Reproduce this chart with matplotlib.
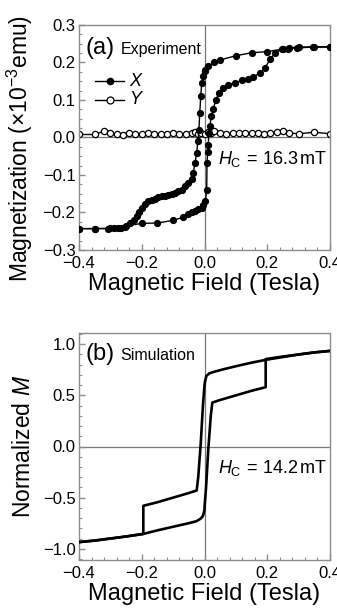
import matplotlib
matplotlib.use('Agg')
import matplotlib.pyplot as plt
from matplotlib.ticker import MultipleLocator

plt.rcParams['font.family'] = ['Liberation Sans', 'DejaVu Sans']
plt.rcParams['mathtext.fontset'] = 'custom'
plt.rcParams['mathtext.rm'] = 'Liberation Sans'
plt.rcParams['mathtext.it'] = 'Liberation Sans:italic'

# (a) experiment, X component: descending branch then ascending branch
x_down = [0.4, 0.35, 0.3, 0.27, 0.25, 0.2, 0.15, 0.1, 0.05, 0.03, 0.012, 0.003, 0.0,
          -0.005, -0.009, -0.012, -0.015, -0.018, -0.021, -0.025, -0.03, -0.036, -0.041,
          -0.052, -0.062, -0.073, -0.084, -0.094, -0.105, -0.115, -0.126, -0.136, -0.147,
          -0.158, -0.168, -0.179, -0.19, -0.2, -0.21, -0.216, -0.226, -0.237, -0.253,
          -0.265, -0.275, -0.29, -0.307, -0.35, -0.4]
mx_down = [0.242, 0.242, 0.241, 0.239, 0.236, 0.229, 0.226, 0.218, 0.207, 0.2, 0.19, 0.18, 0.176,
           0.165, 0.145, 0.11, 0.066, 0.02, -0.01, -0.041, -0.068, -0.094, -0.112,
           -0.121, -0.13, -0.139, -0.144, -0.148, -0.151, -0.153, -0.155, -0.157, -0.16,
           -0.165, -0.167, -0.17, -0.178, -0.188, -0.2, -0.21, -0.22, -0.229, -0.238,
           -0.241, -0.241, -0.242, -0.243, -0.243, -0.243]
x_up = [-0.4, -0.35, -0.3, -0.25, -0.2, -0.15, -0.1, -0.07, -0.052, -0.04, -0.03, -0.02,
        -0.009, -0.004, 0.003, 0.007, 0.008, 0.01, 0.012, 0.014, 0.017, 0.022, 0.028, 0.036,
        0.047, 0.06, 0.076, 0.097, 0.119, 0.14, 0.156, 0.177, 0.193, 0.209, 0.225, 0.246,
        0.267, 0.294, 0.346, 0.4]
mx_up = [-0.243, -0.243, -0.242, -0.236, -0.229, -0.228, -0.221, -0.213, -0.205, -0.2, -0.196,
         -0.192, -0.188, -0.179, -0.17, -0.139, -0.068, -0.04, -0.019, 0.012, 0.03, 0.057,
         0.075, 0.101, 0.119, 0.132, 0.141, 0.146, 0.152, 0.156, 0.162, 0.172, 0.186, 0.208,
         0.226, 0.235, 0.237, 0.239, 0.241, 0.241]

# (a) experiment, Y component
x_y = [-0.4, -0.35, -0.32, -0.3, -0.28, -0.26, -0.24, -0.22, -0.2, -0.18, -0.16, -0.14,
       -0.12, -0.1, -0.08, -0.06, -0.04, -0.03, -0.02, -0.01, 0.0, 0.01, 0.02, 0.03, 0.05,
       0.07, 0.09, 0.11, 0.13, 0.15, 0.17, 0.19, 0.21, 0.23, 0.25, 0.27, 0.3, 0.35, 0.4]
my_y = [0.008, 0.008, 0.017, 0.012, 0.009, 0.007, 0.012, 0.01, 0.01, 0.011, 0.01, 0.01,
        0.009, 0.011, 0.01, 0.009, 0.012, 0.015, 0.008, 0.013, 0.01, 0.015, 0.012, 0.016, 0.013,
        0.01, 0.013, 0.012, 0.012, 0.011, 0.012, 0.009, 0.012, 0.015, 0.018, 0.012, 0.01,
        0.014, 0.01]

# (b) simulation, normalized M
xs_down = [0.4, 0.35, 0.3, 0.25, 0.2, 0.15, 0.1, 0.06, 0.03, 0.015, 0.006, 0.002, 0.0,
           -0.005, -0.012, -0.02, -0.025, -0.05, -0.1, -0.15, -0.195, -0.195, -0.25, -0.3,
           -0.35, -0.4]
ms_down = [0.935, 0.92, 0.9, 0.875, 0.85, 0.82, 0.785, 0.755, 0.73, 0.715, 0.69, 0.64, 0.6,
           0.4, 0.03, -0.3, -0.43, -0.455, -0.5, -0.545, -0.58, -0.855, -0.88, -0.9,
           -0.92, -0.935]
xs_up = [-0.4, -0.35, -0.3, -0.25, -0.195, -0.195, -0.15, -0.1, -0.05, -0.025, -0.02,
         -0.012, -0.005, 0.0, 0.0, 0.005, 0.012, 0.02, 0.025, 0.05, 0.1, 0.15, 0.195, 0.195,
         0.25, 0.3, 0.35, 0.4]
ms_up = [-0.935, -0.92, -0.9, -0.88, -0.855, -0.855, -0.82, -0.785, -0.75, -0.73, -0.72,
         -0.705, -0.68, -0.62, -0.6, -0.4, -0.03, 0.3, 0.43, 0.455, 0.5, 0.545, 0.58, 0.855,
         0.88, 0.9, 0.92, 0.935]

x_ticks = [-0.4, -0.2, 0.0, 0.2, 0.4]
x_ticklabels = ['\u22120.4', '\u22120.2', '0.0', '0.2', '0.4']

frame_gray = '#8c8c8c'


def style_axes(ax):
    for s in ax.spines.values():
        s.set_color(frame_gray)
        s.set_linewidth(1.0)
    ax.axhline(0, color='#777777', lw=0.9, zorder=1)
    ax.axvline(0, color='#777777', lw=0.9, zorder=1)
    ax.set_xlim(-0.4, 0.4)
    ax.set_xticks(x_ticks)
    ax.set_xticklabels(x_ticklabels)
    ax.xaxis.set_minor_locator(MultipleLocator(0.04))
    ax.tick_params(which='both', direction='in', color=frame_gray, labelsize=12,
                   top=False, right=False)
    ax.tick_params(axis='y', pad=2.5)
    ax.tick_params(axis='x', pad=4)
    ax.tick_params(which='major', length=4, width=1)
    ax.tick_params(which='minor', length=2.5, width=0.8)
    ax.set_xlabel('Magnetic Field (Tesla)', fontsize=17, labelpad=2)


fig = plt.figure(figsize=(3.37, 6.08), dpi=100)

# panel (a)
ax1 = fig.add_axes([79 / 337, 1 - 250 / 608, 251 / 337, 225 / 608])
style_axes(ax1)
ax1.plot(x_down, mx_down, '-o', color='black', lw=1.0, ms=4.2, zorder=3)
ax1.plot(x_up, mx_up, '-o', color='black', lw=1.0, ms=4.2, zorder=3)
ax1.plot(x_y, my_y, '-o', color='black', mfc='white', mec='black', mew=0.9,
         lw=1.0, ms=4.5, zorder=2)
ax1.set_ylim(-0.3, 0.3)
ax1.set_yticks([-0.3, -0.2, -0.1, 0.0, 0.1, 0.2, 0.3])
ax1.set_yticklabels(['\u22120.3', '\u22120.2', '\u22120.1', '0.0', '0.1', '0.2', '0.3'])
ax1.yaxis.set_minor_locator(MultipleLocator(0.025))
ax1.set_ylabel('Magnetization (\u00d710$^{-3}$emu)', fontsize=16.5, labelpad=2)
ax1.yaxis.set_label_coords(-0.175, 0.45)
ax1.text(0.025, 0.945, '(a)', transform=ax1.transAxes, fontsize=17, va='top')
ax1.text(0.165, 0.925, 'Experiment', transform=ax1.transAxes, fontsize=11.5, va='top')
# legend drawn by hand
ax1.plot([-0.35, -0.255], [0.15, 0.15], color='black', lw=1.0)
ax1.plot([-0.3025], [0.15], 'o', color='black', ms=4.5)
ax1.plot([-0.35, -0.255], [0.101, 0.101], color='black', lw=1.0)
ax1.plot([-0.3025], [0.101], 'o', mfc='white', mec='black', mew=0.9, ms=5)
ax1.text(-0.24, 0.15, '$X$', fontsize=13, va='center')
ax1.text(-0.24, 0.101, '$Y$', fontsize=13, va='center')
ax1.text(0.043, -0.058, '$H_{\\rm C}\\,{=}\\,16.3\\,\\mathrm{mT}$', fontsize=13, va='center')

# panel (b)
ax2 = fig.add_axes([79 / 337, 1 - 560 / 608, 251 / 337, 227 / 608])
style_axes(ax2)
ax2.plot(xs_down, ms_down, color='black', lw=1.9, zorder=3)
ax2.plot(xs_up, ms_up, color='black', lw=1.9, zorder=3)
ax2.set_ylim(-1.11, 1.11)
ax2.set_yticks([-1.0, -0.5, 0.0, 0.5, 1.0])
ax2.set_yticklabels(['\u22121.0', '\u22120.5', '0.0', '0.5', '1.0'])
ax2.yaxis.set_minor_locator(MultipleLocator(0.1))
ax2.set_ylabel('Normalized $M$', fontsize=16.5, labelpad=2)
ax2.yaxis.set_label_coords(-0.175, 0.5)
ax2.text(0.025, 0.955, '(b)', transform=ax2.transAxes, fontsize=17, va='top')
ax2.text(0.165, 0.935, 'Simulation', transform=ax2.transAxes, fontsize=11.5, va='top')
ax2.text(0.043, -0.21, '$H_{\\rm C}\\,{=}\\,14.2\\,\\mathrm{mT}$', fontsize=13, va='center')

fig.savefig('out.png', dpi=100)
